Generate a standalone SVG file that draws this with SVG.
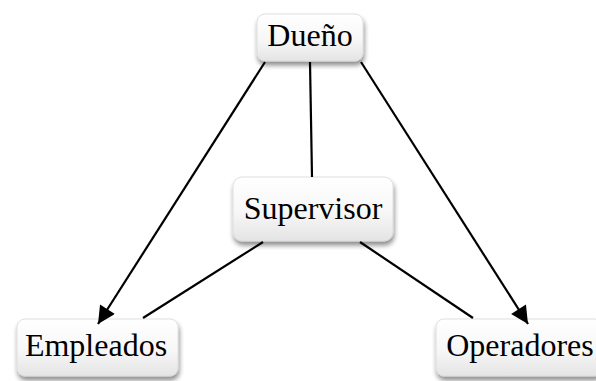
<svg xmlns="http://www.w3.org/2000/svg" width="596" height="381" viewBox="0 0 596 381">
<defs>
<linearGradient id="g" x1="0" y1="0" x2="0" y2="1">
<stop offset="0" stop-color="#ffffff"/>
<stop offset="0.55" stop-color="#f7f7f7"/>
<stop offset="1" stop-color="#e4e4e4"/>
</linearGradient>
<filter id="sh" x="-20%" y="-30%" width="140%" height="170%">
<feGaussianBlur in="SourceAlpha" stdDeviation="2.5"/>
<feOffset dx="1" dy="4" result="b"/>
<feComponentTransfer><feFuncA type="linear" slope="0.45"/></feComponentTransfer>
<feMerge><feMergeNode/><feMergeNode in="SourceGraphic"/></feMerge>
</filter>
<marker id="ah" viewBox="0 0 10 10" refX="10" refY="5" markerWidth="9" markerHeight="8" markerUnits="strokeWidth" orient="auto">
<path d="M0,0 L10,5 L0,10 z" fill="#000"/>
</marker>
</defs>
<style>
.box{fill:url(#g);stroke:#d8d8d8;stroke-width:0.8;filter:url(#sh)}
.t{font-family:"Liberation Serif","Times New Roman",serif;font-size:32px;fill:#000;text-anchor:middle}
.c{stroke:#000;stroke-width:2.2;fill:none}
</style>
<rect width="596" height="381" fill="#fff"/>
<g id="node-dueno">
<rect class="box" x="257" y="14" width="106" height="47" rx="8"/>
<text class="t" x="310" y="46">Dueño</text>
</g>
<g id="node-supervisor">
<rect class="box" x="233" y="177" width="160" height="64" rx="9"/>
<text class="t" x="313" y="219">Supervisor</text>
</g>
<g id="node-empleados">
<rect class="box" x="17" y="319" width="161" height="57" rx="8"/>
<text class="t" x="96" y="356">Empleados</text>
</g>
<g id="node-operadores">
<rect class="box" x="436" y="319" width="166" height="57" rx="8"/>
<text class="t" x="520" y="356">Operadores</text>
</g>
<g id="connectors">
<line class="c" x1="265" y1="62" x2="98" y2="324" marker-end="url(#ah)"/>
<line class="c" x1="361" y1="62" x2="528" y2="324" marker-end="url(#ah)"/>
<line class="c" x1="310" y1="62" x2="312" y2="177"/>
<line class="c" x1="263" y1="242" x2="143" y2="318"/>
<line class="c" x1="360" y1="242" x2="473" y2="318"/>
</g>
</svg>
